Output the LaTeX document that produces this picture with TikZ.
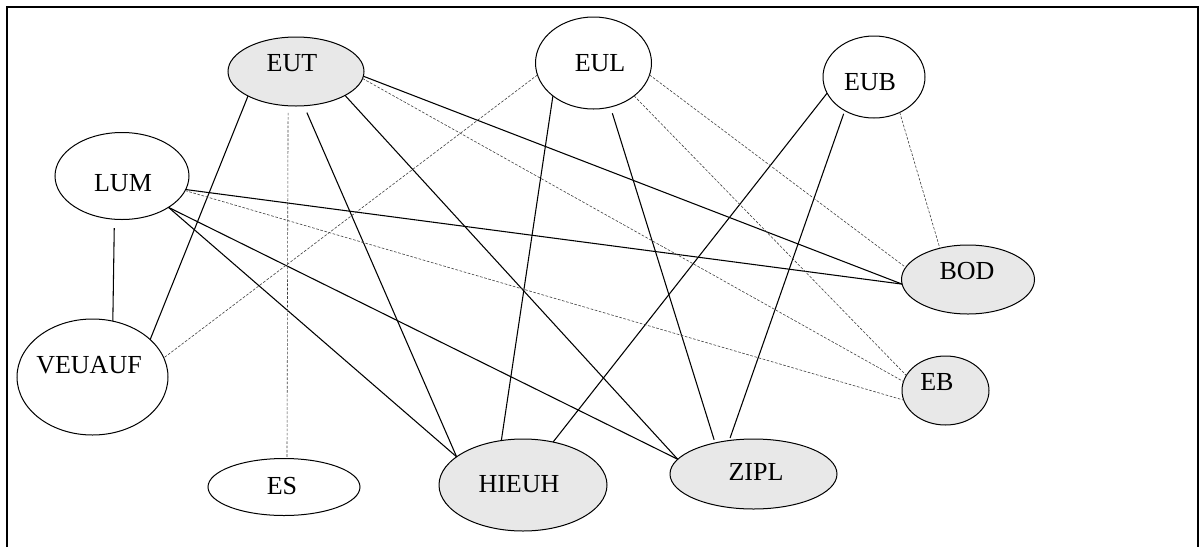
\documentclass[tikz,border=0pt]{standalone}
\usepackage{fontspec}
\setmainfont{Liberation Serif}
\usetikzlibrary{shapes.geometric}
\definecolor{nodegray}{HTML}{E8E8E8}
\tikzset{
  nd/.style={ellipse, draw, line width=0.75pt, inner sep=0pt, outer sep=0pt},
  gr/.style={fill=nodegray},
  lbl/.style={font=\fontsize{19.5}{23}\selectfont, inner sep=0pt},
  sol/.style={line width=0.8pt, black},
  dsh/.style={line width=0.45pt, black!75, dash pattern=on 2pt off 1.2pt},
  frame/.style={line width=1.75pt, black}
}
\begin{document}
\begin{tikzpicture}[x=0.75pt, y=-0.75pt]
\useasboundingbox (0,0) rectangle (1204,547);
\coordinate (fbl) at (7,547);
\coordinate (ftl) at (7,7);
\coordinate (ftr) at (1198,7);
\coordinate (fbr) at (1198,547);
\draw[frame] (fbl) -- (ftl) -- (ftr) -- (fbr);

% nodes
\node[nd, gr, minimum width=102pt, minimum height=51.75pt,
  label={[lbl, xshift=-3pt, yshift=6.4pt]center:EUT}] (EUT) at (296,71.5) {};
\node[nd, minimum width=87pt, minimum height=69pt,
  label={[lbl, xshift=4.9pt]center:EUL}] (EUL) at (593.5,63) {};
\node[nd, minimum width=76.5pt, minimum height=61.5pt,
  label={[lbl, xshift=-3pt, yshift=-3.75pt]center:EUB}] (EUB) at (874,77) {};
\node[nd, minimum width=100.5pt, minimum height=65.25pt,
  label={[lbl, xshift=0.75pt, yshift=-5.25pt]center:LUM}] (LUM) at (122,176) {};
\node[nd, minimum width=113.25pt, minimum height=87pt,
  label={[lbl, xshift=-2.6pt, yshift=9pt]center:VEUAUF}] (VEUAUF) at (92.5,377) {};
\node[nd, minimum width=114pt, minimum height=42.75pt,
  label={[lbl, xshift=-1.5pt, yshift=0.75pt]center:ES}] (ES) at (284,487) {};
\node[nd, gr, minimum width=126pt, minimum height=69pt,
  label={[lbl, xshift=-3pt, yshift=0.75pt]center:HIEUH}] (HIEUH) at (523,485) {};
\node[nd, gr, minimum width=125.25pt, minimum height=52.5pt,
  label={[lbl, xshift=1.9pt, yshift=1.5pt]center:ZIPL}] (ZIPL) at (753.5,474) {};
\node[nd, gr, minimum width=99.75pt, minimum height=51.75pt,
  label={[lbl, xshift=-0.75pt, yshift=6pt]center:BOD}] (BOD) at (968,279.5) {};
\node[nd, gr, minimum width=65.25pt, minimum height=51.75pt,
  label={[lbl, xshift=-6.4pt, yshift=6.4pt]center:EB}] (EB) at (945.5,390.5) {};

% solid connectors
\draw[sol] (EUT.207.5) -- (VEUAUF.33.2);
\draw[sol, shorten <=5.6pt] (EUT.283.5) -- (HIEUH.157.4);
\draw[sol] (EUT.334.4) -- (ZIPL.169.2);
\draw[sol] (EUT.356.2) -- (BOD.184.6);
\draw[sol, shorten <=6.75pt] (LUM.260.2) -- (VEUAUF.70.5);
\draw[sol] (LUM.348.2) -- (BOD.184.6);
\draw[sol] (LUM.326.3) -- (HIEUH.157.4);
\draw[sol] (LUM.326.3) -- (ZIPL.169.2);
\draw[sol] (EUL.219.7) -- (HIEUH.116.1);
\draw[sol, shorten <=4.9pt, shorten >=2.5pt] (EUL.291.3) -- (ZIPL.141.8);
\draw[sol] (EUB.199.1) -- (HIEUH.55.2);
\draw[sol, shorten <=2.5pt, shorten >=2pt] (EUB.229.3) -- (ZIPL.126.1);

% dashed connectors
\draw[dsh, shorten <=5.25pt] (EUT.257.8) -- (ES.84.3);
\draw[dsh] (EUT.354.8) -- (EB.168);
\draw[dsh] (LUM.347.1) -- (EB.193.6);
\draw[dsh] (EUL.192.7) -- (VEUAUF.15.7);
\draw[dsh] (EUL.348.2) -- (BOD.169.4);
\draw[dsh] (EUL.321.2) -- (EB.159.2);
\draw[dsh] (EUB.306.9) -- (BOD.132.6);
\end{tikzpicture}
\end{document}
